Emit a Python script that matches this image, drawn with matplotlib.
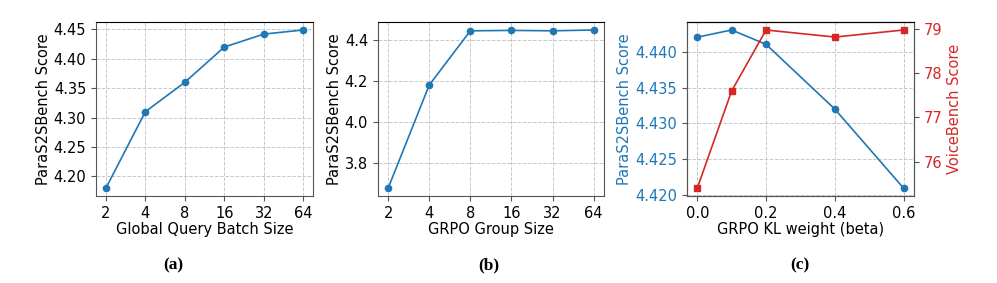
import matplotlib
matplotlib.use("Agg")
import matplotlib.pyplot as plt

batch_labels = ["2", "4", "8", "16", "32", "64"]
batch_scores = [4.18, 4.31, 4.36, 4.42, 4.442, 4.449]

group_labels = ["2", "4", "8", "16", "32", "64"]
group_scores = [3.68, 4.18, 4.443, 4.445, 4.443, 4.447]

kl_beta = [0.0, 0.1, 0.2, 0.4, 0.6]
kl_para = [4.442, 4.443, 4.441, 4.432, 4.421]
kl_voice = [75.4, 77.6, 78.98, 78.82, 78.98]

BLUE = "#1f77b4"
RED = "#d62728"
FS = 10.5

plt.rcParams["font.family"] = "DejaVu Sans"
fig = plt.figure(figsize=(9.97, 2.83), dpi=100)


def style_axes(ax):
    ax.grid(True, linestyle="--", color="#c8c8c8", linewidth=0.7)
    ax.set_axisbelow(True)
    for side in ["left", "bottom", "right"]:
        ax.spines[side].set_color("#555555")
    ax.spines["top"].set_color("black")
    ax.tick_params(labelsize=FS, color="#555555")


ax1 = fig.add_axes([0.0963, 0.307, 0.2177, 0.615])
ax1.plot(range(len(batch_labels)), batch_scores, marker="o", markersize=4.5,
         color=BLUE, linewidth=1.2)
ax1.set_xticks(range(len(batch_labels)))
ax1.set_xticklabels(batch_labels)
ax1.set_yticks([4.20, 4.25, 4.30, 4.35, 4.40, 4.45])
ax1.set_xlabel("Global Query Batch Size", fontsize=FS, labelpad=1)
ax1.set_ylabel("ParaS2SBench Score", fontsize=FS, labelpad=2)
style_axes(ax1)

ax2 = fig.add_axes([0.379, 0.307, 0.2267, 0.615])
ax2.plot(range(len(group_labels)), group_scores, marker="o", markersize=4.5,
         color=BLUE, linewidth=1.2)
ax2.set_xticks(range(len(group_labels)))
ax2.set_xticklabels(group_labels)
ax2.set_yticks([3.8, 4.0, 4.2, 4.4])
ax2.set_xlabel("GRPO Group Size", fontsize=FS, labelpad=1)
ax2.set_ylabel("ParaS2SBench Score", fontsize=FS, labelpad=2)
style_axes(ax2)

ax3 = fig.add_axes([0.689, 0.307, 0.2277, 0.615])
ax3.plot(kl_beta, kl_para, marker="o", markersize=4.5, color=BLUE, linewidth=1.2)
ax3.set_xticks([0.0, 0.2, 0.4, 0.6])
ax3.set_yticks([4.420, 4.425, 4.430, 4.435, 4.440])
ax3.set_xlabel("GRPO KL weight (beta)", fontsize=FS, labelpad=1)
ax3.set_ylabel("ParaS2SBench Score", fontsize=FS, color=BLUE, labelpad=2)
style_axes(ax3)
ax3.tick_params(axis="y", labelcolor=BLUE)

ax4 = ax3.twinx()
ax4.plot(kl_beta, kl_voice, marker="s", markersize=4.5, color=RED, linewidth=1.2)
ax4.set_yticks([76, 77, 78, 79])
ax4.set_ylabel("VoiceBench Score", fontsize=FS, color=RED, labelpad=3)
ax4.tick_params(axis="y", labelcolor=RED, labelsize=FS, color="#555555")
for side in ["left", "bottom", "right"]:
    ax4.spines[side].set_color("#555555")
ax4.spines["top"].set_color("black")

# subfigure captions
cap = dict(fontsize=12.5, fontweight="bold", family="Liberation Serif",
           ha="center", va="center")
fig.text(173 / 997, 1 - 265 / 283, "(a)", **cap)
fig.text(489 / 997, 1 - 265 / 283, "(b)", **cap)
fig.text(800 / 997, 1 - 265 / 283, "(c)", **cap)

fig.savefig("out.png", dpi=100)
